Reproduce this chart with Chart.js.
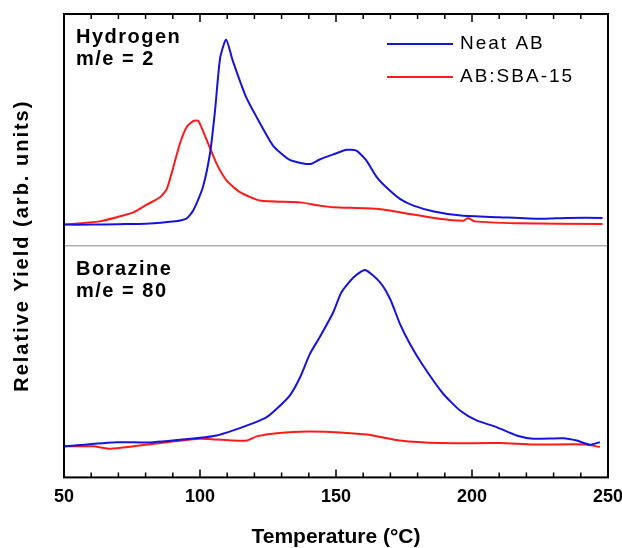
<!DOCTYPE html>
<html>
<head>
<meta charset="utf-8">
<script src="https://cdn.jsdelivr.net/npm/chart.js@4.4.1/dist/chart.umd.min.js"></script>
<style>
  html, body { margin: 0; padding: 0; background: #fff; }
  #wrap { width: 622px; height: 548px; }
</style>
</head>
<body>
<div id="wrap"><canvas id="myChart" width="622" height="548"></canvas></div>
<script>
// temperature (°C) / relative yield (arb. units) pairs
const h2Neat = [[50,9.1],[60,9.1],[70,9.3],[80,9.5],[90,10.4],[95,11.7],[97.5,15.2],[101,25],[103.7,40],[105.5,58],
  [107.4,81],[109.6,89],[112,80],[117,64],[122,53],[127,43],[133,37],[138,35.5],[141,35.4],[144,37.2],[149,39.4],
  [154,41.4],[157.5,41],[161,37],[165,29.6],[168.5,25.2],[173.5,20.2],[178.5,17.3],[186,14.8],[196,13],[210,12.3],
  [225,11.6],[235,12],[248,12]]
const h2Sba = [[50,9.1],[63,10.5],[69.4,12.3],[75.5,14.4],[80.4,17.7],[85.3,20.9],[87.8,24.5],[90.2,33.9],[92.6,44],
  [95.1,51.2],[97.5,53.8],[99.4,53.8],[102.5,45.5],[106.1,35.4],[109.8,28.1],[114.7,23.1],[122,19.5],[136.8,18.7],
  [144,17.3],[149,16.6],[165,15.9],[177.2,13.7],[188,11.6],[196.8,10.8],[198.6,12],[201,10.5],[216.4,9.7],[248,9.4]]
const borNeat = [[50,13.4],[69.4,15.2],[81.6,15.1],[100,17.1],[106.1,18.1],[112.2,20.3],[119.6,23.4],[124.5,26],
  [128.2,29.6],[133,35.3],[136.8,43.2],[140.4,53.3],[144,60.5],[149,71.3],[152,79.9],[156.4,86.3],[160.7,89.5],
  [166.2,84.2],[169.9,77],[173.5,66.3],[177.2,57.6],[182,48.3],[189.4,36.1],[195.6,28.9],[201.7,24.6],[209,21.7],
  [216.4,18.1],[222.5,16.7],[233.6,16.9],[238.5,15.9],[243.4,14.1],[247,15.2]]
const borSba = [[50,13.4],[60.8,13.4],[66.9,12.4],[75.5,13.4],[87.8,15.2],[100,16.7],[112.2,15.9],[117.2,15.9],
  [120.8,17.7],[128.2,19.1],[140.4,19.8],[161.3,18.5],[173.5,15.9],[188.2,14.8],[210.3,14.8],[222.5,14.2],
  [242,14.2],[247,13.1]]
const seriesNames = ['Neat AB', 'AB:SBA-15']
const panelLabels = [['Hydrogen', 'm/e = 2'], ['Borazine', 'm/e = 80']]
const xTicks = [50, 100, 150, 200, 250]

const blue = 'rgb(20,20,225)'
const red = 'rgb(255,25,25)'
const FONT = '"Liberation Sans", Arial, sans-serif'

function pts(arr) { return arr.map(p => ({x: p[0], y: p[1]})) }

function ds(label, data, color, axis) {
  return { label: label, data: pts(data), borderColor: color, borderWidth: 2, pointRadius: 0,
    tension: 0.2, yAxisID: axis, fill: false }
}

/* cadre, graduations, légende et textes des panneaux */
const decor = {
  id: 'decor',
  afterDraw(chart) {
    const ctx = chart.ctx
    const a = chart.chartArea
    const x = chart.scales.x
    const yB = chart.scales.yB
    ctx.save()
    // separator
    ctx.strokeStyle = '#b0b0b0'
    ctx.lineWidth = 1.5
    ctx.beginPath()
    ctx.moveTo(a.left, yB.top)
    ctx.lineTo(a.right, yB.top)
    ctx.stroke()
    // ticks inward
    ctx.strokeStyle = '#000'
    ctx.lineWidth = 1.5
    for (let t = 50; t <= 250; t += 10) {
      const px = x.getPixelForValue(t)
      const len = t % 50 === 0 ? 8 : 5
      ctx.beginPath()
      ctx.moveTo(px, a.bottom); ctx.lineTo(px, a.bottom - len)
      ctx.moveTo(px, a.top); ctx.lineTo(px, a.top + len)
      ctx.stroke()
    }
    // frame
    ctx.lineWidth = 2
    ctx.strokeRect(a.left, a.top, a.right - a.left, a.bottom - a.top)

    // panel labels
    ctx.fillStyle = '#000'
    ctx.font = 'bold 20px ' + FONT
    ctx.letterSpacing = '1.5px'
    ctx.textBaseline = 'alphabetic'
    ctx.textAlign = 'left'
    const yH = chart.scales.yH
    ctx.fillText(panelLabels[0][0], a.left + 12, yH.top + 29)
    ctx.fillText(panelLabels[0][1], a.left + 12, yH.top + 51)
    ctx.fillText(panelLabels[1][0], a.left + 12, yB.top + 29)
    ctx.fillText(panelLabels[1][1], a.left + 12, yB.top + 51)

    // legend
    ctx.font = '19px ' + FONT
    ctx.letterSpacing = '2px'
    ctx.textBaseline = 'middle'
    const cols = [blue, red]
    for (let i = 0; i < 2; i++) {
      const ly = a.top + 30 + i * 33
      ctx.strokeStyle = cols[i]
      ctx.lineWidth = 2
      ctx.beginPath()
      ctx.moveTo(387, ly); ctx.lineTo(453, ly)
      ctx.stroke()
      ctx.fillText(chart.data.datasets[i].label, 460, ly)
    }

    // y title
    ctx.font = 'bold 20px ' + FONT
    ctx.letterSpacing = '2px'
    ctx.textAlign = 'center'
    ctx.translate(22, (a.top + a.bottom) / 2)
    ctx.rotate(-Math.PI / 2)
    ctx.fillText('Relative Yield (arb. units)', 0, 0)
    ctx.restore()
  }
}

new Chart('myChart', {
  type: 'line',
  data: {
    datasets: [
      ds(seriesNames[0], h2Neat, blue, 'yH'),
      ds(seriesNames[1], h2Sba, red, 'yH'),
      ds(seriesNames[0], borNeat, blue, 'yB'),
      ds(seriesNames[1], borSba, red, 'yB')
    ]
  },
  options: {
    responsive: false,
    animation: false,
    layout: { padding: { left: 64, top: 14, right: 0, bottom: 0 } },
    plugins: { legend: { display: false }, tooltip: { enabled: false } },
    scales: {
      x: {
        type: 'linear', min: 50, max: 250,
        afterBuildTicks(s) { s.ticks = xTicks.map(v => ({value: v})) },
        afterFit(s) { s.paddingLeft = 0; s.paddingRight = 14 },
        grid: { display: false, drawTicks: false },
        border: { display: false },
        ticks: { color: '#000', padding: 9, maxRotation: 0, font: { family: FONT, size: 18, weight: 'bold' } },
        title: { display: true, text: 'Temperature (°C)', color: '#000', padding: { top: 10, bottom: 0 },
          font: { family: FONT, size: 21, weight: 'bold', lineHeight: 1 } }
      },
      yB: {
        type: 'linear', position: 'left', stack: 'panels', stackWeight: 1, min: 0, max: 100,
        ticks: { display: false }, grid: { display: false, drawTicks: false }, border: { display: false }
      },
      yH: {
        type: 'linear', position: 'left', stack: 'panels', stackWeight: 1, min: 0, max: 100,
        ticks: { display: false }, grid: { display: false, drawTicks: false }, border: { display: false }
      }
    }
  },
  plugins: [decor]
})
</script>
</body>
</html>
